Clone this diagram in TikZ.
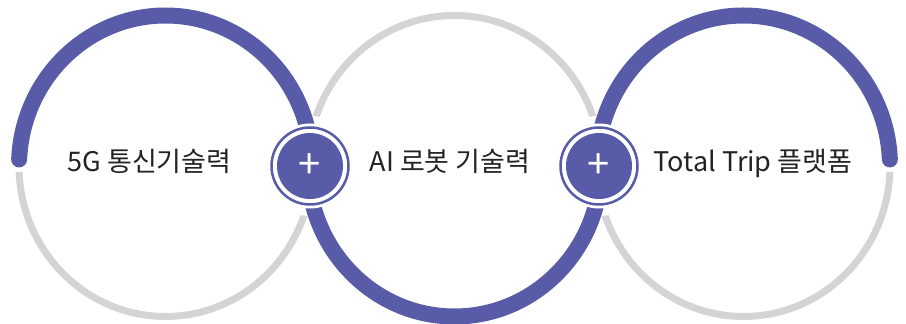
\documentclass[tikz,border=0pt]{standalone}
\usepackage{fontspec}
\newfontfamily\krfont{Noto Sans CJK KR}
\usetikzlibrary{positioning}
\definecolor{bandpurple}{RGB}{88,92,168}
\definecolor{rimgray}{RGB}{212,212,214}
\definecolor{inkgray}{RGB}{35,35,35}

\begin{document}
\begin{tikzpicture}[x=1pt, y=1pt, node distance={289pt}, x radius=146.5, y radius=150.5,
    band/.style = {bandpurple, line width=16pt, line cap=round},
    rim/.style = {rimgray, line width=7pt},
    cutout/.style = {circle, fill=white, inner sep=0pt, minimum size=#1},
    ring/.style = {circle, fill=white, draw=white, double=bandpurple, double distance=2.5pt, line width=2.75pt, inner sep=0pt, minimum size=77pt},
    plusdot/.style = {circle, fill=bandpurple, inner sep=0pt, minimum size=66pt, text=white, font=\krfont\fontsize{40}{40}\selectfont},
    skill/.style = {font=\krfont\fontsize{27}{31}\selectfont, text=inkgray, anchor=base}]
    \useasboundingbox (0,0) rectangle (906,324);

    \coordinate (o1) at (165.5,158);
    \coordinate (o2) at (454.5,158);
    \coordinate (o3) at (743.5,158);

    \draw[rim] (o1) ++(182.2:146.5 and 150.5) arc[start angle=182.2, end angle=360];
    \draw[rim] (o2) ++(0:146.5 and 150.5) arc[start angle=0, end angle=180];
    \draw[rim] (o3) ++(-2.2:146.5 and 150.5) arc[start angle=-2.2, end angle=-180];

    \node[cutout=100pt] (hole1) at (310,158) {};
    \node[cutout=100pt] (hole2) [right of = hole1] {};

    \draw[band] (o1) ++(177.5:146.5 and 150.5) arc[start angle=177.5, end angle=0];
    \draw[band] (o2) ++(180:146.5 and 150.5) arc[start angle=180, end angle=360];
    \draw[band] (o3) ++(180:146.5 and 150.5) arc[start angle=180, end angle=2.5];

    \node[ring] (ring1) at (hole1) {};
    \node[ring] (ring2) at (hole2) {};
    \node[plusdot] (plus1) at (hole1) {+};
    \node[plusdot] (plus2) at (hole2) {+};

    \node[skill] (net) at (149.5,152) {5G 통신기술력};
    \node[skill] (robot) at (450,152) {AI 로봇 기술력};
    \node[skill] (trip) at (753,152) {Total Trip 플랫폼};
\end{tikzpicture}
\end{document}
